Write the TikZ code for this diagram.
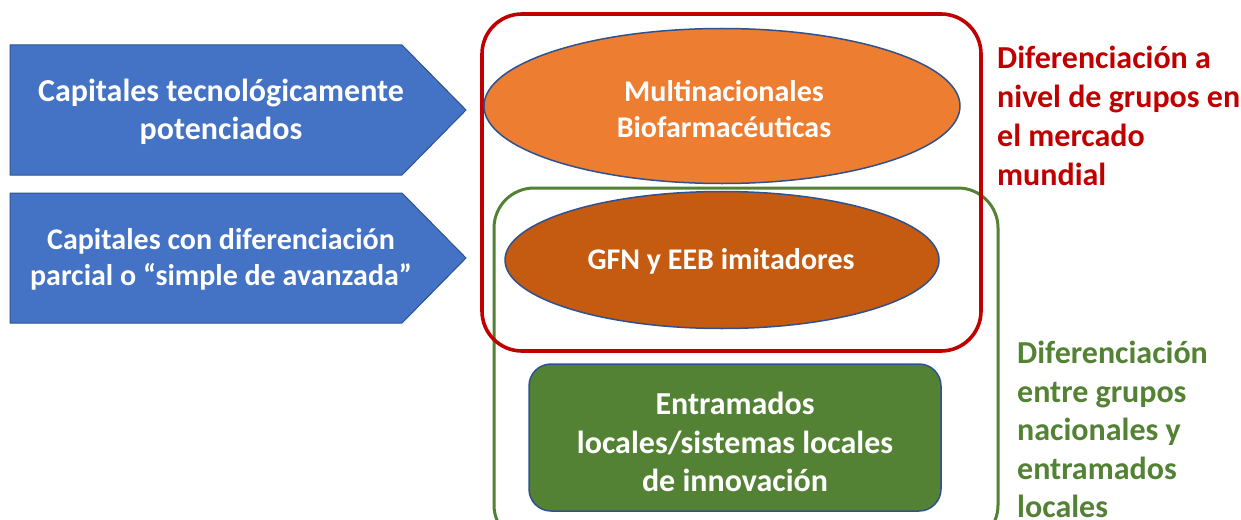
\documentclass[tikz,border=0pt]{standalone}
\usepackage{fontspec}
\setmainfont{Carlito}
\usetikzlibrary{shapes.geometric}
\definecolor{arrowblue}{HTML}{4472C4}
\definecolor{edgeblue}{HTML}{2F528F}
\definecolor{orng}{HTML}{ED7D31}
\definecolor{dorng}{HTML}{C55A11}
\definecolor{grn}{HTML}{548235}
\definecolor{redc}{HTML}{C00000}
\begin{document}
\begin{tikzpicture}[x=1pt,y=-1pt,
  wtxt/.style={font=\fontsize{32}{38.5}\selectfont\bfseries, align=center, text=white, inner sep=0pt},
  sidetxt/.style={font=\fontsize{32}{39}\selectfont\bfseries, align=left, inner sep=0pt, anchor=north west},
  arrowshape/.style={fill=arrowblue, draw=edgeblue, line width=1pt},
  outline/.style={line width=3pt, rounded corners=40pt},
  blob/.style={ellipse, draw=edgeblue, line width=1.5pt, inner sep=0pt}]
\useasboundingbox (0,0) rectangle (1241,519);
\fill[white] (0,0) rectangle (1241,519);
\clip (0,0) rectangle (1241,519);
% arrows
\draw[arrowshape] (10,45) -- (402,45) -- (466,110) -- (402,175) -- (10,175) -- cycle;
\node[wtxt] (a1) at (221,112) {Capitales tecnológicamente\\potenciados};
\draw[arrowshape] (10,193) -- (402,193) -- (466,258) -- (402,323) -- (10,323) -- cycle;
\node[wtxt, font=\fontsize{30}{36}\selectfont\bfseries] (a2) at (221,259) {Capitales con diferenciación\\parcial o “simple de avanzada”};
% outlines
\draw[outline, grn] (494,188) rectangle (998,545);
\draw[outline, redc, line width=3.6pt] (482,14) rectangle (981,351);
% ellipses
\node[blob, fill=orng, minimum width=476pt, minimum height=155pt] (mb) at (722,106) {};
\node[wtxt, font=\fontsize{30}{36}\selectfont\bfseries] (mbt) at (724,109) {Multinacionales\\Biofarmacéuticas};
\node[blob, fill=dorng, minimum width=434pt, minimum height=137pt] (gfn) at (722,260) {};
\node[wtxt, font=\fontsize{30}{36}\selectfont\bfseries] (gfnt) at (721,261) {GFN y EEB imitadores};
% green box
\node[draw=edgeblue, fill=grn, line width=1.5pt, rounded corners=22pt, minimum width=412pt, minimum height=147pt, inner sep=0pt] (ent) at (735,437.5) {};
\node[wtxt] (entt) at (735,442) {Entramados\\locales/sistemas locales\\de innovación};
% side labels
\node[sidetxt, text=redc] (rl) at (997,46) {Diferenciación a\\nivel de grupos en\\el mercado\\mundial};
\node[sidetxt, text=grn, font=\fontsize{32}{38.5}\selectfont\bfseries] (gl) at (1017,341) {Diferenciación\\entre grupos\\nacionales y\\entramados\\locales};
\end{tikzpicture}
\end{document}
